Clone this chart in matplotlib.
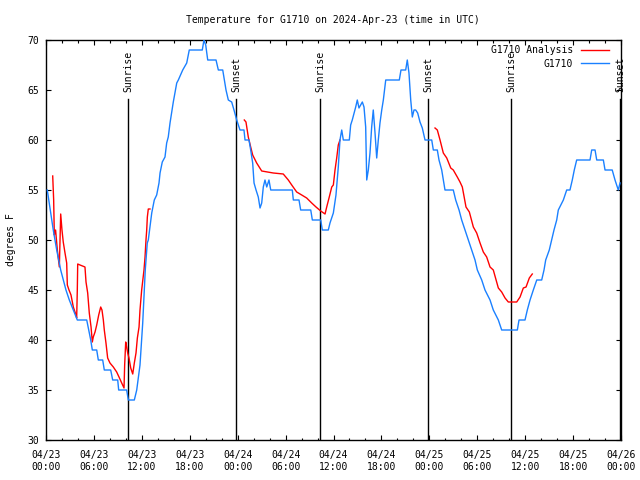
import numpy as np
import matplotlib
matplotlib.use("Agg")
import matplotlib.pyplot as plt
from matplotlib.ticker import MultipleLocator

# ---- data (time in hours since 2024-04-23 00:00 UTC) ----
obs_hours = [0.16, 0.91, 1.34, 1.84, 2.50, 2.92, 3.42, 3.92, 5.10, 5.60, 5.80, 6.35, 6.55, 7.10,
             7.30, 8.10, 8.35, 8.98, 9.10, 10.10, 10.31, 11.06, 11.36, 11.77, 12.11, 12.43, 12.68,
             12.81, 13.24, 13.56, 13.86, 14.15, 14.28, 14.56, 14.90, 15.11, 15.31, 15.53, 15.74,
             15.94, 16.15, 16.37, 16.57, 17.12, 17.62, 17.94, 19.57, 19.78, 20.00, 20.25, 21.29,
             21.58, 22.13, 22.33, 22.54, 22.83, 23.25, 23.54, 23.88, 24.29, 24.79, 24.92, 25.42,
             25.63, 25.88, 26.05, 26.30, 26.58, 26.80, 27.01, 27.21, 27.42, 27.64, 27.92, 28.14,
             30.84, 30.97, 31.68, 31.89, 33.15, 33.35, 34.40, 34.60, 35.35, 35.56, 35.98, 36.31,
             36.60, 36.81, 37.03, 37.23, 37.98, 38.15, 38.35, 38.78, 38.98, 39.19, 39.61, 39.82,
             40.03, 40.16, 40.36, 40.57, 40.78, 40.98, 41.20, 41.41, 41.61, 41.82, 42.04, 42.24,
             42.54, 44.24, 44.45, 45.04, 45.24, 45.45, 45.67, 45.87, 46.08, 46.29, 46.54, 46.83,
             47.12, 47.46, 48.30, 48.50, 49.00, 49.21, 49.55, 49.96, 51.00, 51.30, 51.72, 52.05,
             52.47, 52.88, 53.31, 53.72, 54.01, 54.56, 54.97, 55.60, 56.01, 56.64, 57.06, 59.02,
             59.23, 59.98, 60.27, 60.61, 61.02, 61.45, 62.07, 62.36, 62.57, 63.02, 63.32, 63.61,
             63.95, 64.15, 64.78, 65.20, 65.61, 65.90, 66.15, 66.45, 68.12, 68.33, 68.75, 68.96,
             69.79, 70.00, 70.90, 71.25, 71.66, 71.88]
obs_temps = [55, 51, 49, 47, 45, 44, 43, 42, 42, 40, 39, 39, 38, 38,
             37, 37, 36, 36, 35, 35, 34, 34, 35, 37.5, 41.7, 47, 49.7,
             50, 52.7, 54, 54.5, 55.7, 56.7, 57.8, 58.3, 59.7, 60.3, 61.7, 62.8,
             63.8, 64.7, 65.7, 66, 67, 67.7, 69, 69, 70, 69.5, 68, 68,
             67, 67, 66, 65, 64, 63.8, 63, 62, 61, 61, 60, 60,
             59, 57.7, 55.7, 55, 54.3, 53.2, 53.7, 55.3, 56, 55.3, 56, 55,
             55, 54, 54, 53, 53, 52, 52, 51, 51, 51.7, 52.7, 54.5,
             57.3, 60, 61, 60, 60, 61.5, 62, 63.3, 64, 63.2, 63.8, 63.3,
             61.3, 56, 57, 58.7, 61.3, 63, 60.7, 58.2, 60, 61.7, 63, 64,
             66, 66, 67, 67, 68, 66.7, 64, 62.3, 63, 63, 62.7, 61.8,
             61.2, 60, 60, 59, 59, 58, 57, 55, 55, 54, 53, 52,
             51, 50, 49, 48, 47, 46, 45, 44, 43, 42, 41, 41,
             42, 42, 43, 44, 45, 46, 46, 47, 48, 49, 50, 51,
             52, 53, 54, 55, 55, 56, 57, 58, 58, 59, 59, 58,
             58, 57, 57, 56, 55, 55.7]

ana_hours = [0.84, 0.96, 1.04, 1.20, 1.42, 1.67, 1.84, 2.00, 2.16, 2.38, 2.59, 2.67, 2.88, 3.13,
             3.42, 3.76, 3.84, 3.92, 3.97, 4.26, 4.88, 5.01, 5.22, 5.42, 5.64, 5.80, 5.92, 6.14,
             6.35, 6.60, 6.85, 7.01, 7.18, 7.30, 7.51, 7.72, 8.01, 8.43, 8.85, 9.14, 9.48, 9.77,
             9.85, 9.98, 10.10, 10.23, 10.39, 10.61, 10.86, 11.06, 11.27, 11.44, 11.65, 11.77,
             11.98, 12.27, 12.40, 12.52, 12.61, 12.69, 12.81, 13.02,
             13.5,
             24.83, 25.04, 25.33, 25.63, 25.88, 26.38, 27.01, 28.46, 29.71, 30.34, 30.77, 31.39,
             32.02, 32.64, 33.27, 33.81, 34.40, 34.94, 35.15, 35.47, 35.78, 35.98, 36.19, 36.40,
             36.60, 36.81,
             37.5,
             48.71, 49.00, 49.34, 49.75, 50.18, 50.68, 51.00, 51.50, 51.84, 52.13, 52.59, 53.01,
             53.51, 53.93, 54.35, 54.76, 55.18, 55.60, 56.01, 56.64, 57.06, 57.48, 57.89, 58.94,
             59.36, 59.77, 60.11, 60.52, 60.89]
ana_temps = [56.4, 54, 50.5, 51, 49, 47.3, 52.6, 51, 49.8, 48.7, 47.7, 45.5, 45, 44.5,
             43.3, 42.5, 42.2, 45, 47.6, 47.5, 47.3, 45.8, 44.7, 42.7, 41.3, 39.8, 40.3, 40.8,
             41.5, 42.5, 43.3, 43, 42, 41, 39.7, 38.2, 37.7, 37.3, 36.8, 36.3, 35.7, 35.2,
             37.5, 39.8, 39.3, 38.7, 38.2, 37.2, 36.6, 37.7, 38.7, 40.2, 41.3, 43,
             45, 47, 48.3, 50, 51, 52.3, 53.1, 53.1,
             np.nan,
             62, 61.8, 60.3, 59.3, 58.5, 57.7, 56.9, 56.7, 56.6, 56, 55.5, 54.8,
             54.5, 54.2, 53.7, 53.3, 52.9, 52.6, 53.3, 54.3, 55.3, 55.5, 57, 58.2,
             59.5, 60,
             np.nan,
             61.2, 61, 60, 58.7, 58.2, 57.2, 57, 56.3, 55.8, 55.3, 53.3, 52.8,
             51.3, 50.7, 49.7, 48.8, 48.3, 47.3, 47, 45.2, 44.8, 44.2, 43.8, 43.8,
             44.3, 45.2, 45.3, 46.2, 46.6]

sun_events = ["Sunrise", "Sunset", "Sunrise", "Sunset", "Sunrise", "Sunset"]
sun_hours = [10.31, 23.83, 34.35, 47.87, 58.27, 71.90]

xtick_hours = [0, 6, 12, 18, 24, 30, 36, 42, 48, 54, 60, 66, 72]
xtick_labels = ["04/23\n00:00", "04/23\n06:00", "04/23\n12:00", "04/23\n18:00",
                "04/24\n00:00", "04/24\n06:00", "04/24\n12:00", "04/24\n18:00",
                "04/25\n00:00", "04/25\n06:00", "04/25\n12:00", "04/25\n18:00",
                "04/26\n00:00"]
ytick_values = [30, 35, 40, 45, 50, 55, 60, 65, 70]

# ---- figure ----
plt.rcParams['font.family'] = ['DejaVu Sans Mono']
FS = 7

fig = plt.figure(figsize=(6.4, 4.8), dpi=100)
ax = fig.add_axes([46/640, 40/480, 575/640, 400/480])

RED = '#ff0000'
BLUE = '#1a80ff'

ax.plot(ana_hours, ana_temps, color=RED, lw=1.0, label='G1710 Analysis', zorder=3)
ax.plot(obs_hours, obs_temps, color=BLUE, lw=1.0, label='G1710', zorder=3)

for name, h in zip(sun_events, sun_hours):
    ax.plot([h, h], [0, 0.8525], transform=ax.get_xaxis_transform(),
            color='black', lw=1.0, zorder=2)
    ax.text(h, 0.87, name, rotation=90, ha='center', va='bottom', fontsize=FS,
            transform=ax.get_xaxis_transform())

ax.set_xlim(0, 72)
ax.set_ylim(30, 70)
ax.set_xticks(xtick_hours)
ax.set_xticklabels(xtick_labels, fontsize=FS, linespacing=1.3)
ax.xaxis.set_minor_locator(MultipleLocator(2))
ax.set_yticks(ytick_values)
ax.set_yticklabels([str(v) for v in ytick_values], fontsize=FS)
ax.tick_params(axis='both', which='major', direction='in', length=3.5, width=0.8,
               top=True, right=True, pad=5)
ax.tick_params(axis='x', which='major', pad=7)
ax.tick_params(axis='x', which='minor', direction='in', length=1.8, width=0.8,
               top=True, bottom=True)
for s in ax.spines.values():
    s.set_linewidth(1.0)

fig.text(333/640, 1 - 20/480, 'Temperature for G1710 on 2024-Apr-23 (time in UTC)',
         ha='center', va='center', fontsize=FS)
fig.text(11/640, 1 - 240/480, 'degrees F', rotation=90, ha='center', va='center',
         fontsize=FS)

leg = ax.legend(loc='upper right', bbox_to_anchor=(0.979, 0.987), frameon=False,
                fontsize=FS, markerfirst=False, handlelength=2.9, handletextpad=0.8,
                labelspacing=0.35, borderpad=0, borderaxespad=0)
for t in leg.get_texts():
    t.set_ha('right')

fig.savefig('out.png', dpi=100)
